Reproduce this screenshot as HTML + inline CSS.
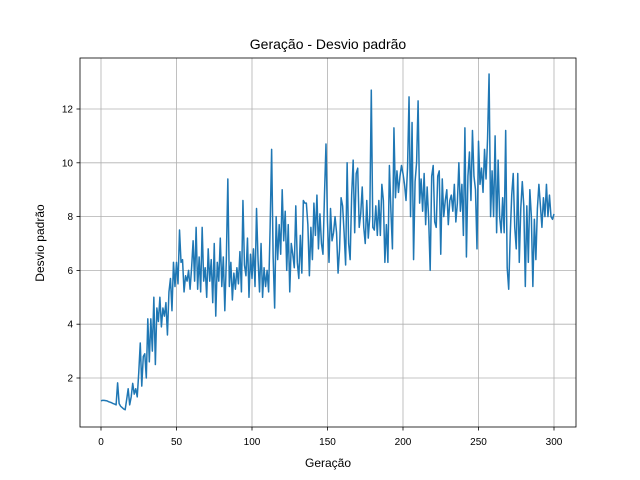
<!DOCTYPE html>
<html><head><meta charset="utf-8"><style>body{margin:0;background:#fff}svg{display:block;font-family:"Liberation Sans","DejaVu Sans",sans-serif}</style></head>
<body>
<svg id="chart" width="640" height="480" xmlns="http://www.w3.org/2000/svg">
<rect width="640" height="480" fill="#fff"/>
<text x="328" y="49" font-size="14" text-anchor="middle">Geração - Desvio padrão</text>
<g id="grid"></g><g id="ticks"></g>
<path id="line" fill="none" stroke="#1f77b4" stroke-width="1.5" stroke-linejoin="round"/>
<rect x="80" y="58" width="496" height="369" fill="none" stroke="#000" stroke-width="0.8"/>
<text x="328" y="467" font-size="12" text-anchor="middle">Geração</text>
<text x="44" y="243" font-size="12" text-anchor="middle" transform="rotate(-90 44 243)">Desvio padrão</text>
</svg>
<script>
const xTicks=[0,50,100,150,200,250,300];
const yTicks=[2,4,6,8,10,12];
const stdValues=[1.15,1.17,1.17,1.16,1.15,1.12,1.1,1.08,1.05,1.03,1.0,
1.82,1.05,0.95,0.9,0.85,0.82,1.2,1.6,1.0,1.3,
1.8,1.4,1.6,1.3,2.2,3.3,1.7,2.8,2.9,2.0,
4.2,2.6,4.2,3.0,5.0,2.5,4.6,4.1,5.0,3.9,
4.6,4.3,4.8,3.6,5.2,5.7,4.5,6.3,5.4,6.3,
5.5,7.5,6.3,6.4,5.2,5.8,5.6,6.0,5.3,6.1,
7.1,5.6,7.6,5.3,6.5,5.2,7.6,5.6,6.1,5.0,
6.8,5.6,6.4,4.8,7.0,4.3,6.3,5.6,7.2,5.4,
6.5,4.5,6.4,9.4,5.4,6.3,4.9,5.9,5.3,6.1,
5.5,6.7,5.2,8.6,6.2,5.8,7.2,5.0,6.6,5.7,
6.8,5.4,8.3,6.4,5.2,7.0,5.0,6.1,5.4,6.0,
5.2,7.6,10.5,6.5,4.6,8.0,6.4,7.7,6.6,9.0,
7.1,8.2,6.0,7.7,5.2,7.0,6.6,6.1,8.4,6.3,
5.7,7.3,5.9,8.6,8.5,8.5,7.7,5.8,7.6,6.4,
8.5,7.3,8.8,6.8,8.1,7.0,6.6,8.8,10.7,7.8,
6.3,8.3,7.1,7.4,8.0,7.4,5.9,6.8,8.7,8.4,
7.4,6.2,10.0,7.0,6.4,8.8,10.1,7.4,9.6,9.8,
7.6,8.1,9.1,7.6,7.0,8.6,7.2,8.0,12.7,7.6,
7.5,8.4,7.3,8.6,7.3,9.2,8.6,6.3,7.7,6.3,
9.9,8.2,6.8,11.3,8.7,9.7,8.9,9.5,9.9,9.6,
9.2,8.6,9.8,12.45,8.0,11.5,6.4,9.3,10.0,12.3,
8.5,9.4,8.2,9.6,7.7,9.1,7.9,6.0,9.5,9.9,
7.8,7.6,9.5,9.7,6.6,9.4,8.0,8.6,9.0,7.7,
8.6,8.8,8.2,9.2,7.8,8.5,10.0,8.2,9.2,7.3,
11.3,6.5,9.5,10.4,8.6,11.2,9.5,9.0,6.8,10.8,
9.2,9.8,8.9,10.5,9.4,10.9,13.3,8.0,9.7,8.0,
11.0,7.4,10.1,8.0,7.4,8.7,7.4,11.2,6.1,5.3,
7.3,8.8,9.6,7.6,6.8,9.6,6.3,8.3,9.3,8.4,
5.4,8.4,6.3,9.0,8.0,5.4,7.9,6.4,8.3,9.2,
8.4,7.6,8.7,8.0,9.2,8.0,8.8,8.0,7.9,8.1];
const NS='http://www.w3.org/2000/svg';
const X=v=>101+v*(554-101)/300;
const Y=v=>431.8-v*26.9;
const grid=document.getElementById('grid'),ticks=document.getElementById('ticks');
function mk(tag,attrs,parent){const e=document.createElementNS(NS,tag);for(const k in attrs)e.setAttribute(k,attrs[k]);parent.appendChild(e);return e;}
xTicks.forEach(t=>{
  const g=mk('line',{x1:X(t),x2:X(t),y1:58,y2:427,stroke:'#b0b0b0','stroke-width':0.8},grid);
  
  
  mk('line',{x1:X(t),x2:X(t),y1:427,y2:430.5,stroke:'#000','stroke-width':0.8},ticks);
  const l=mk('text',{x:X(t),y:445,'font-size':10,'text-anchor':'middle'},ticks);l.textContent=t;
  
  
});
yTicks.forEach(t=>{
  const g=mk('line',{x1:80,x2:576,y1:Y(t),y2:Y(t),stroke:'#b0b0b0','stroke-width':0.8},grid);
  
  
  mk('line',{x1:76.5,x2:80,y1:Y(t),y2:Y(t),stroke:'#000','stroke-width':0.8},ticks);
  const l=mk('text',{x:73,y:Y(t)+3.5,'font-size':10,'text-anchor':'end'},ticks);l.textContent=t;
  
  
});
document.getElementById('line').setAttribute('d',stdValues.map((v,i)=>(i?'L':'M')+X(i).toFixed(2)+' '+Y(v).toFixed(2)).join(''));
</script>
</body></html>
